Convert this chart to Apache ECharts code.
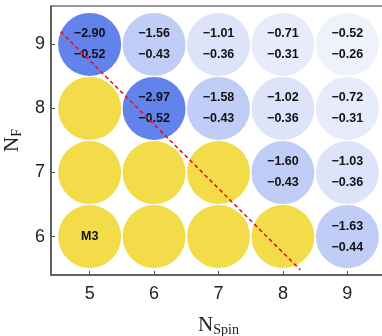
<!DOCTYPE html>
<html>
<head>
<meta charset="utf-8">
<script src="https://cdn.jsdelivr.net/npm/echarts@6/dist/echarts.min.js"></script>
<style>
  html, body { margin: 0; padding: 0; background: #fff; }
  #chart { width: 382px; height: 336px; }
</style>
</head>
<body>
<div id="chart"></div>
<script>
// tick values
var spinTicks = [5, 6, 7, 8, 9];
var nfTicks = [6, 7, 8, 9];

// blue cells (computed points)
var blueX = [5, 6, 7, 8, 9, 6, 7, 8, 9, 8, 9, 9];
var blueY = [9, 9, 9, 9, 9, 8, 8, 8, 8, 7, 7, 6];
var topVals = [-2.90, -1.56, -1.01, -0.71, -0.52, -2.97, -1.58, -1.02, -0.72, -1.60, -1.03, -1.63];
var bottomVals = [-0.52, -0.43, -0.36, -0.31, -0.26, -0.52, -0.43, -0.36, -0.31, -0.43, -0.36, -0.44];

// yellow cells
var yellowX = [5, 5, 6, 7, 5, 6, 7, 8];
var yellowY = [8, 7, 7, 7, 6, 6, 6, 6];
var yellowLabels = ["", "", "", "", "M3", "", "", ""];

// diagonal dashed line ends
var diagX = [4.55, 8.27];
var diagY = [9.20, 5.48];

function fmt(v) {
  return (v < 0 ? "\u2212" : "") + Math.abs(v).toFixed(2);
}

var blueData = blueX.map(function (x, i) {
  return [x, blueY[i], topVals[i], bottomVals[i]];
});
var yellowData = yellowX.map(function (x, i) {
  return { value: [x, yellowY[i]], label: yellowLabels[i] };
});
var lineData = diagX.map(function (x, i) {
  return [x, diagY[i]];
});

var myChart = echarts.init(document.getElementById("chart"));
var labelFont = "Liberation Sans";
var axisName = {
  n: { fontFamily: "Liberation Serif", fontSize: 21, color: "#222" },
  s: { fontFamily: "Liberation Serif", fontSize: 14, color: "#222", padding: [10, 0, 0, 0] }
};

myChart.setOption({
  animation: false,
  grid: {
    left: 51,
    right: -4,
    top: 6,
    bottom: 61,
    outerBoundsMode: "none",
    containLabel: false,
    show: true,
    borderColor: "#333",
    borderWidth: 1.2
  },
  xAxis: {
    type: "value",
    min: 4.4,
    max: 9.6,
    name: "{n|N}{s|Spin}",
    nameLocation: "middle",
    nameGap: 38,
    nameTextStyle: { rich: axisName },
    axisLine: { show: true, lineStyle: { color: "#555", width: 1.5 } },
    axisTick: { show: true, inside: true, length: 4, customValues: spinTicks, lineStyle: { color: "#555" } },
    axisLabel: { customValues: spinTicks, fontFamily: labelFont, fontSize: 18, color: "#222", margin: 10 },
    splitLine: { show: false }
  },
  yAxis: {
    type: "value",
    min: 5.4,
    max: 9.6,
    name: "{n|N}{s|F}",
    nameLocation: "middle",
    nameRotate: 90,
    nameGap: 26,
    nameTextStyle: { rich: axisName },
    axisLine: { show: true, lineStyle: { color: "#555", width: 1.5 } },
    axisTick: { show: true, inside: true, length: 4, customValues: nfTicks, lineStyle: { color: "#555" } },
    axisLabel: { customValues: nfTicks, fontFamily: labelFont, fontSize: 18, color: "#222", margin: 6 },
    splitLine: { show: false }
  },
  visualMap: {
    type: "piecewise",
    show: false,
    seriesIndex: 0,
    dimension: 2,
    pieces: [
      { lt: -2, color: "#6282EC" },
      { gte: -2, lt: -1.3, color: "#C0CDF6" },
      { gte: -1.3, lt: -0.9, color: "#DDE4FA" },
      { gte: -0.9, lt: -0.6, color: "#E7ECFA" },
      { gte: -0.6, color: "#EFF2FB" }
    ]
  },
  series: [
    {
      type: "scatter",
      data: blueData,
      symbolSize: 63,
      itemStyle: { opacity: 1 },
      label: {
        show: true,
        position: "inside",
        fontFamily: labelFont,
        fontWeight: "bold",
        fontSize: 12.5,
        lineHeight: 21,
        color: "#111",
        formatter: function (p) {
          return fmt(p.value[2]) + "\n" + fmt(p.value[3]);
        }
      },
      z: 2
    },
    {
      type: "scatter",
      data: yellowData,
      symbolSize: 63,
      itemStyle: { color: "#F3DC4A", opacity: 1 },
      label: {
        show: true,
        position: "inside",
        fontFamily: labelFont,
        fontWeight: "bold",
        fontSize: 12.5,
        color: "#111",
        formatter: function (p) {
          return p.data.label;
        }
      },
      z: 2
    },
    {
      type: "line",
      data: lineData,
      symbol: "none",
      lineStyle: { color: "#F01010", width: 1.6, type: [4, 3] },
      z: 5
    }
  ]
});
</script>
</body>
</html>
